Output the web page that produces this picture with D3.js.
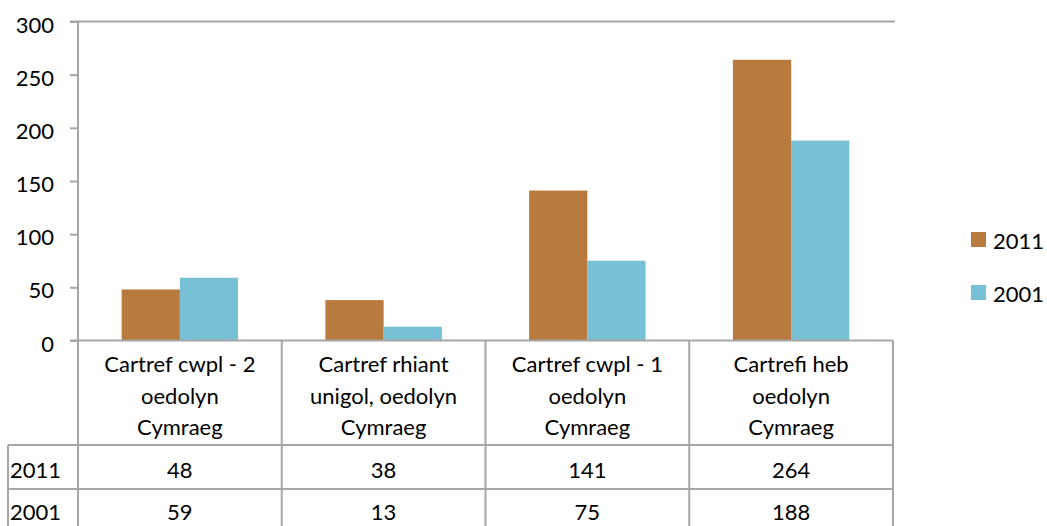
<!DOCTYPE html>
<html>
<head>
<meta charset="utf-8">
<script src="https://cdn.jsdelivr.net/npm/d3@7"></script>
<style>
  html, body { margin: 0; padding: 0; background: #fff; }
  svg { display: block; font-family: Lato, "Open Sans", sans-serif; }
</style>
</head>
<body>
<svg id="chart" width="1047" height="526"></svg>
<script>
const categories = [
  "Cartref cwpl - 2 oedolyn Cymraeg",
  "Cartref rhiant unigol, oedolyn Cymraeg",
  "Cartref cwpl - 1 oedolyn Cymraeg",
  "Cartrefi heb oedolyn Cymraeg"
];
const seriesNames = ["2011", "2001"];
const values2011 = [48, 38, 141, 264];
const values2001 = [59, 13, 75, 188];
const yTicks = [0, 50, 100, 150, 200, 250, 300];
const colors = ["#B97A3D", "#78C0D6"];

const seriesValues = [values2011, values2001];
const svg = d3.select("#chart");
const lineColor = "#A6A6A6";
const fontSize = 22;

const plotLeft = 78, plotRight = 893, plotTop = 21.5, plotBottom = 340.5;
const tableLeft = 8;
const rowLines = [445, 489, 533];

const y = d3.scaleLinear().domain([0, 300]).range([plotBottom, plotTop]);
const x0 = d3.scaleBand().domain(categories).range([plotLeft, plotRight]).padding(0);
const x1 = d3.scaleBand().domain(seriesNames).range([0, x0.bandwidth()])
  .paddingInner(0).paddingOuter(0.75);

// bars
seriesNames.forEach((s, si) => {
  svg.append("g").selectAll("rect")
    .data(categories.map((c, i) => ({ c, v: seriesValues[si][i] })))
    .join("rect")
    .attr("x", d => x0(d.c) + x1(s))
    .attr("width", x1.bandwidth())
    .attr("y", d => y(d.v))
    .attr("height", d => y(0) - y(d.v))
    .attr("fill", colors[si]);
});

// y axis
const yAxis = d3.axisLeft(y).tickValues(yTicks).tickSize(8).tickPadding(16);
const gy = svg.append("g").attr("transform", `translate(${plotLeft},0)`).call(yAxis);
gy.select(".domain").remove();
gy.selectAll(".tick line").attr("stroke", lineColor).attr("stroke-width", 2);
gy.selectAll(".tick text")
  .attr("font-size", fontSize).attr("fill", "#000")
  .attr("font-family", "Lato, 'Open Sans', sans-serif")
  .attr("dy", "0.48em");

// lines
const lines = svg.append("g").attr("stroke", lineColor).attr("stroke-width", 2).attr("fill", "none");
lines.append("line").attr("x1", plotLeft - 8).attr("x2", plotRight + 2).attr("y1", y(300)).attr("y2", y(300));
lines.append("line").attr("x1", plotLeft - 8).attr("x2", plotRight).attr("y1", y(0)).attr("y2", y(0));
lines.append("line").attr("x1", plotLeft).attr("x2", plotLeft).attr("y1", y(300)).attr("y2", 526);
categories.forEach(c => {
  const xe = x0(c) + x0.bandwidth();
  lines.append("line").attr("x1", xe).attr("x2", xe).attr("y1", y(0)).attr("y2", 526);
});
rowLines.forEach(ry => {
  lines.append("line").attr("x1", tableLeft).attr("x2", plotRight).attr("y1", ry).attr("y2", ry);
});
lines.append("line").attr("x1", tableLeft).attr("x2", tableLeft).attr("y1", rowLines[0]).attr("y2", 526);

// category labels (wrapped)
const maxW = 166;
categories.forEach(c => {
  const cx = x0(c) + x0.bandwidth() / 2;
  const t = svg.append("text").attr("x", cx).attr("y", 372)
    .attr("text-anchor", "middle").attr("font-size", fontSize).attr("fill", "#000");
  const words = c.split(" ");
  let lineWords = [];
  let lineIdx = 0;
  let tspan = t.append("tspan").attr("x", cx).attr("y", 372);
  words.forEach(w => {
    lineWords.push(w);
    tspan.text(lineWords.join(" "));
    if (tspan.node().getComputedTextLength() > maxW && lineWords.length > 1) {
      lineWords.pop();
      tspan.text(lineWords.join(" "));
      lineWords = [w];
      lineIdx++;
      tspan = t.append("tspan").attr("x", cx).attr("y", 372 + lineIdx * 31.5).text(w);
    }
  });
});

// table rows
const rowBaselines = [478, 520];
seriesNames.forEach((s, si) => {
  svg.append("text").attr("x", 10).attr("y", rowBaselines[si])
    .attr("font-size", fontSize).attr("fill", "#000").text(s);
  svg.append("g").selectAll("text")
    .data(categories.map((c, i) => ({ c, v: seriesValues[si][i] })))
    .join("text")
    .attr("x", d => x0(d.c) + x0.bandwidth() / 2)
    .attr("y", rowBaselines[si])
    .attr("text-anchor", "middle")
    .attr("font-size", fontSize).attr("fill", "#000")
    .text(d => d.v);
});

// legend
const legendY = [232, 285];
seriesNames.forEach((s, si) => {
  svg.append("rect").attr("x", 971).attr("y", legendY[si]).attr("width", 15).attr("height", 15)
    .attr("fill", colors[si]);
  svg.append("text").attr("x", 993).attr("y", legendY[si] + 17)
    .attr("font-size", fontSize).attr("fill", "#000").text(s);
});
</script>
</body>
</html>
